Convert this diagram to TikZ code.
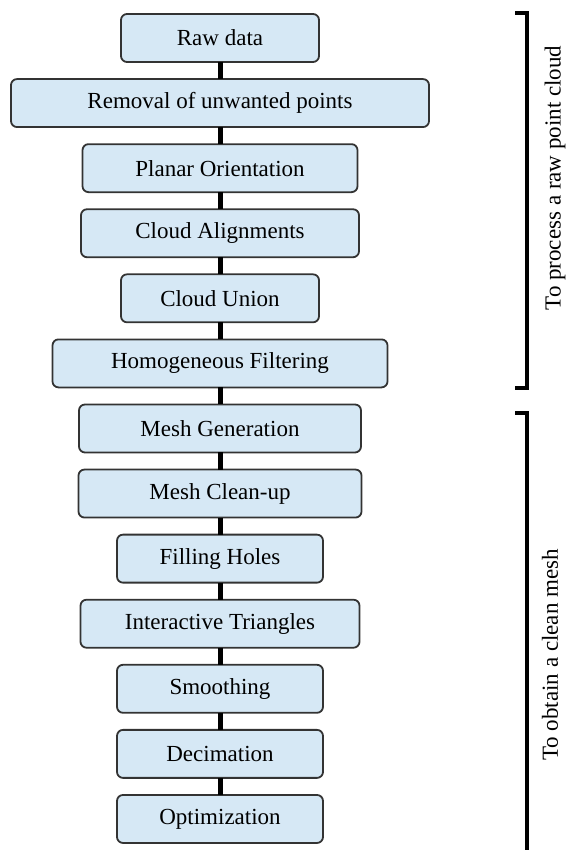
\documentclass[tikz,border=0pt]{standalone}
\usepackage{fontspec}
\setmainfont{Liberation Serif}
\usepackage{tikz}
\usetikzlibrary{positioning}
\usepackage{xcolor}
\definecolor{boxblue}{RGB}{214,232,245}

\begin{document}
\begin{tikzpicture}[x=0.5pt, y=-0.5pt, node distance=8.54pt, every node/.style={font=\fontsize{11.5}{13}\selectfont}]
\tikzstyle{block}=[rectangle, draw=black!80, line width=0.9pt, fill=boxblue, rounded corners=3pt, align=center, minimum height=24pt, inner sep=0pt, outer sep=0pt]
\tikzstyle{link}=[line width=2.5pt]
\tikzstyle{bracket}=[line width=2pt]
\useasboundingbox (0,0) rectangle (571,850);
\node[block, minimum width=99pt] (raw) at (220,38) {Raw data};
\node[block, minimum width=209pt, below=of raw] (removal) {Removal of unwanted points};
\node[block, minimum width=137.5pt, below=of removal] (planar) {Planar Orientation};
\node[block, minimum width=139pt, below=of planar] (align) {Cloud Alignments};
\node[block, minimum width=99pt, below=of align] (union) {Cloud Union};
\node[block, minimum width=167.5pt, below=of union] (homog) {Homogeneous Filtering};
\node[block, minimum width=141pt, below=of homog] (meshgen) {Mesh Generation};
\node[block, minimum width=141.5pt, below=of meshgen] (cleanup) {Mesh Clean-up};
\node[block, minimum width=103pt, below=of cleanup] (holes) {Filling Holes};
\node[block, minimum width=139.5pt, below=of holes] (triangles) {Interactive Triangles};
\node[block, minimum width=103pt, below=of triangles] (smooth) {Smoothing};
\node[block, minimum width=103pt, below=of smooth] (decim) {Decimation};
\node[block, minimum width=103pt, below=of decim] (optim) {Optimization};
\draw[link] (raw) -- (removal);
\draw[link] (removal) -- (planar);
\draw[link] (planar) -- (align);
\draw[link] (align) -- (union);
\draw[link] (union) -- (homog);
\draw[link] (homog) -- (meshgen);
\draw[link] (meshgen) -- (cleanup);
\draw[link] (cleanup) -- (holes);
\draw[link] (holes) -- (triangles);
\draw[link] (triangles) -- (smooth);
\draw[link] (smooth) -- (decim);
\draw[link] (decim) -- (optim);
% brackets on the right
\draw[bracket] (515,13) -- (527,13) -- (527,388) -- (515,388);
\draw[bracket] (515,413) -- (527,413) -- (527,850);
\node[rotate=90] (process) at (555,178) {To process a raw point cloud};
\node[rotate=90] (obtain) at (550,655) {To obtain a clean mesh};
\end{tikzpicture}
\end{document}
